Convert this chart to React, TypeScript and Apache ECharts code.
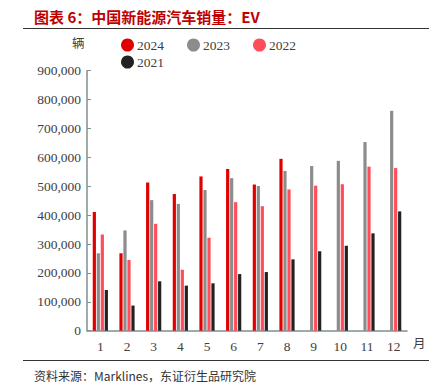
import React, { useEffect, useRef } from "react";
import * as echarts from "echarts";

const months = ["1", "2", "3", "4", "5", "6", "7", "8", "9", "10", "11", "12"];
const s2024 = [411000, 268000, 513000, 473000, 534000, 560000, 506000, 595000, null, null, null, null];
const s2023 = [268000, 347000, 452000, 439000, 487000, 528000, 501000, 553000, 570000, 588000, 653000, 761000];
const s2022 = [333000, 245000, 370000, 211000, 322000, 445000, 431000, 489000, 502000, 507000, 568000, 563000];
const s2021 = [141000, 87000, 171000, 156000, 164000, 196000, 203000, 247000, 275000, 294000, 337000, 413000];
const seriesNames = ["2024", "2023", "2022", "2021"];
const colors = ["#E00000", "#8C8C8C", "#FF4D5A", "#222222"];

const FONT = "'Liberation Serif', 'DejaVu Serif', serif";
const CJK = "'Noto Sans CJK SC', sans-serif";

export default function App() {
  const ref = useRef<HTMLDivElement>(null);
  useEffect(() => {
    document.body.style.margin = "0";
    const chart = echarts.init(ref.current!, null, { renderer: "svg" });
    const data = [s2024, s2023, s2022, s2021];
    const legendBase = {
      itemWidth: 13,
      itemHeight: 13,
      itemGap: 23,
      icon: "circle",
      textStyle: { fontFamily: FONT, fontSize: 13.5, color: "#404040", padding: [0, 0, 0, -2] },
    };
    chart.setOption({
      animation: false,
      backgroundColor: "#ffffff",
      grid: { left: 87, right: 22, top: 70.7, bottom: 58.3 },
      legend: [
        { ...legendBase, left: 116, top: 33, data: seriesNames.slice(0, 3) },
        { ...legendBase, left: 116, top: 50, data: seriesNames.slice(3) },
      ],
      xAxis: {
        type: "category",
        data: months,
        axisLine: { lineStyle: { color: "#7F9090", width: 1.5 } },
        axisTick: { inside: true, length: 4, lineStyle: { color: "#7F9090" } },
        axisLabel: { fontFamily: FONT, fontSize: 13.5, color: "#404040", margin: 9 },
      },
      yAxis: {
        type: "value",
        min: 0,
        max: 900000,
        interval: 100000,
        splitLine: { show: false },
        axisLine: { show: true, lineStyle: { color: "#7F9090", width: 1.5 } },
        axisTick: { show: true, inside: true, length: 4, lineStyle: { color: "#7F9090" } },
        axisLabel: {
          fontFamily: FONT,
          fontSize: 13.5,
          color: "#404040",
          margin: 6,
          formatter: (v: number) => v.toLocaleString("en-US"),
        },
      },
      series: seriesNames.map((name, i) => ({
        name,
        type: "bar",
        data: data[i],
        barWidth: 3.2,
        barGap: "25%",
        itemStyle: { color: colors[i] },
      })),
      graphic: [
        {
          type: "text",
          left: 34,
          top: 9,
          style: {
            text: "图表 6：中国新能源汽车销量：EV",
            fontFamily: CJK,
            fontSize: 15,
            fontWeight: "bold",
            fill: "#C00000",
          },
        },
        {
          type: "line",
          shape: { x1: 23, y1: 28.5, x2: 429, y2: 28.5 },
          style: { stroke: "#333333", lineWidth: 1.2 },
        },
        {
          type: "text",
          left: 72,
          top: 36,
          style: { text: "辆", fontFamily: CJK, fontSize: 12.5, fill: "#404040" },
        },
        {
          type: "text",
          left: 413,
          top: 336,
          style: { text: "月", fontFamily: CJK, fontSize: 12.5, fill: "#404040" },
        },
        {
          type: "line",
          shape: { x1: 23, y1: 360.5, x2: 429, y2: 360.5 },
          style: { stroke: "#333333", lineWidth: 1.2 },
        },
        {
          type: "text",
          left: 34,
          top: 369,
          style: {
            text: "资料来源：Marklines，东证衍生品研究院",
            fontFamily: CJK,
            fontSize: 12,
            fill: "#333333",
          },
        },
      ],
    });
    return () => chart.dispose();
  }, []);
  return <div ref={ref} style={{ width: 429, height: 389 }} />;
}
